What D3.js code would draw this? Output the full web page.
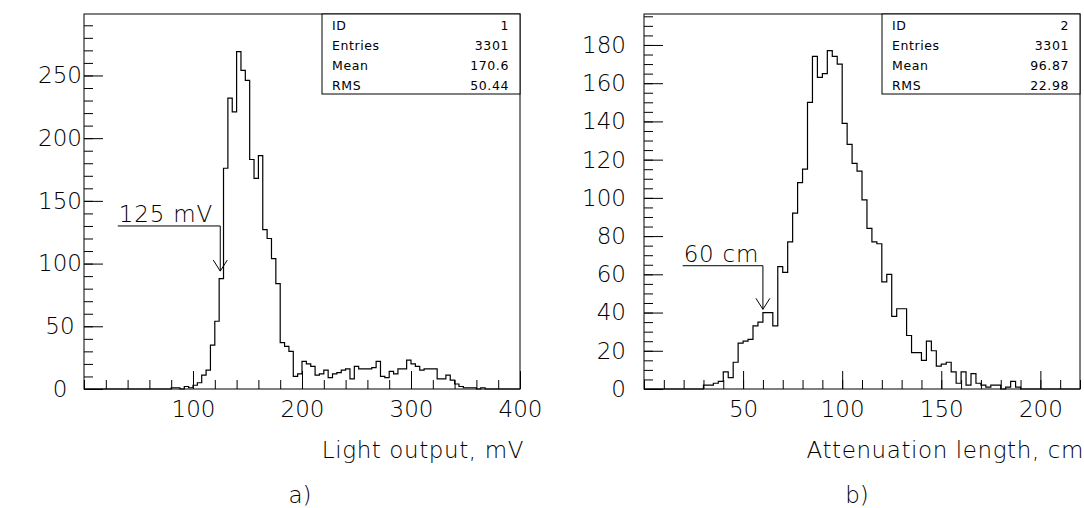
<!DOCTYPE html>
<html>
<head>
<meta charset="utf-8">
<script src="https://cdn.jsdelivr.net/npm/d3@7"></script>
<style>
  body { margin: 0; background: #fff; }
  text { font-family: "DejaVu Sans", sans-serif; fill: #000; }
</style>
</head>
<body>
<svg id="chart" width="1084" height="508"></svg>
<script>
// a) light output: 100 bins of 4 mV, 0..400
var lightCounts = [
  0, 0, 0, 0, 0, 0, 0, 0, 0, 0, 0, 0, 0, 0, 0, 0, 0, 0, 0, 0,
  1, 1, 0, 2, 1, 3, 5, 11, 15, 35, 54, 88, 176, 232, 221, 269, 254, 246, 183, 168,
  186, 127, 120, 104, 84, 37, 34, 30, 10, 12, 22, 20, 18, 11, 12, 15, 9, 12, 13, 15,
  16, 8, 18, 16, 16, 16, 17, 22, 10, 9, 14, 12, 16, 16, 23, 20, 18, 15, 16, 16,
  16, 8, 8, 11, 7, 4, 2, 1, 1, 1, 0, 1, 0, 0, 0, 0, 0, 0, 0, 0
];
var lightStats = [["ID", "1"], ["Entries", "3301"], ["Mean", "170.6"], ["RMS", "50.44"]];
var lightXTicks = [100, 200, 300, 400];
var lightYTicks = [0, 50, 100, 150, 200, 250];

// b) attenuation length: 88 bins of 2.5 cm, 0..220
var attCounts = [
  0, 0, 0, 0, 0, 0, 0, 0, 0, 0, 0, 0, 2, 2, 3, 4, 9, 6, 14, 24,
  25, 26, 33, 35, 40, 40, 33, 64, 61, 77, 92, 108, 115, 150, 174, 163, 165, 177, 174, 170,
  139, 128, 118, 114, 99, 84, 77, 76, 56, 60, 38, 42, 42, 28, 19, 19, 15, 25, 20, 12,
  13, 14, 9, 3, 9, 2, 8, 3, 2, 1, 2, 2, 0, 1, 4, 1, 0, 0, 0, 0,
  0, 0, 0, 0, 0, 0, 0, 0
];
var attStats = [["ID", "2"], ["Entries", "3301"], ["Mean", "96.87"], ["RMS", "22.98"]];
var attXTicks = [50, 100, 150, 200];
var attYTicks = [0, 20, 40, 60, 80, 100, 120, 140, 160, 180];

var svg = d3.select("#chart");

function drawPanel(p) {
  var x = d3.scaleLinear().domain(p.xDomain).range([p.left, p.right]);
  var y = d3.scaleLinear().domain(p.yDomain).range([p.bottom, p.top]);
  var g = svg.append("g");

  // minor and major ticks, pointing inwards
  var minorX = d3.range(p.xDomain[0], p.xDomain[1] + 0.001, p.xMinor);
  var minorY = d3.range(p.yDomain[0], p.yDomain[1], p.yMinor);

  g.append("g")
    .attr("transform", "translate(0," + p.bottom + ")")
    .call(d3.axisBottom(x).tickValues(minorX).tickSize(-9).tickFormat(""))
    .call(function(a) { a.select(".domain").remove(); });
  g.append("g")
    .attr("transform", "translate(0," + p.bottom + ")")
    .call(d3.axisBottom(x).tickValues(p.xTicks).tickSize(-18).tickPadding(12).tickFormat(d3.format("d")))
    .call(function(a) { a.select(".domain").remove(); });
  g.append("g")
    .attr("transform", "translate(" + p.left + ",0)")
    .call(d3.axisLeft(y).tickValues(minorY).tickSize(-9).tickFormat(""))
    .call(function(a) { a.select(".domain").remove(); });
  var yAxisG = g.append("g")
    .attr("transform", "translate(" + p.left + ",0)")
    .call(d3.axisLeft(y).tickValues(p.yTicks).tickSize(-19).tickPadding(p.yPad).tickFormat(d3.format("d")))
    .call(function(a) { a.select(".domain").remove(); });
  if (p.yAnchor) yAxisG.selectAll(".tick text").attr("text-anchor", p.yAnchor);

  g.selectAll(".tick line").attr("stroke", "#000").attr("stroke-width", 1);
  g.selectAll(".tick text")
    .attr("font-family", "DejaVu Sans")
    .attr("font-weight", 200)
    .attr("font-size", 23)
    .attr("fill", "#000");

  // frame
  g.append("rect")
    .attr("x", p.left).attr("y", p.top)
    .attr("width", p.right - p.left).attr("height", p.bottom - p.top)
    .attr("fill", "none").attr("stroke", "#000").attr("stroke-width", 1);

  // histogram outline
  var pts = [];
  p.counts.forEach(function(c, i) {
    var x0 = p.xDomain[0] + i * p.binWidth;
    pts.push([x0, c], [x0 + p.binWidth, c]);
  });
  var line = d3.line()
    .x(function(d) { return x(d[0]); })
    .y(function(d) { return y(d[1]); });
  g.append("path")
    .attr("d", line(pts))
    .attr("fill", "none")
    .attr("stroke", "#000")
    .attr("stroke-width", 1.2);

  // stats box
  var bx = p.statsLeft, by = p.top;
  g.append("rect")
    .attr("x", bx).attr("y", by)
    .attr("width", p.right - bx).attr("height", 80)
    .attr("fill", "#fff").attr("stroke", "#000").attr("stroke-width", 1);
  p.stats.forEach(function(s, i) {
    g.append("text").attr("x", bx + 10).attr("y", by + 15.5 + i * 20)
      .attr("font-size", 12.5).attr("letter-spacing", 0.6).text(s[0]);
    g.append("text").attr("x", p.right - 11).attr("y", by + 15.5 + i * 20)
      .attr("font-size", 12.5).attr("letter-spacing", 0.6).attr("text-anchor", "end").text(s[1]);
  });

  // cut annotation with arrow
  var a = p.arrow;
  var ax = x(a.at), ay = y(a.level), tip = y(a.tip);
  g.append("path")
    .attr("d", "M" + x(a.from) + "," + ay + "H" + ax + "V" + tip +
      "M" + (ax - 7) + "," + (tip - 11) + "L" + ax + "," + tip + "L" + (ax + 7) + "," + (tip - 11))
    .attr("fill", "none").attr("stroke", "#000").attr("stroke-width", 1);
  g.append("text")
    .attr("x", x(a.from) + 1).attr("y", ay - 4)
    .attr("font-size", 23).attr("font-weight", 200).attr("letter-spacing", 0.8)
    .text(a.label);

  // axis title and panel letter
  g.append("text")
    .attr("x", p.right + 4).attr("y", 458)
    .attr("text-anchor", "end")
    .attr("font-size", 23).attr("font-weight", 200).attr("letter-spacing", 0.6)
    .text(p.xLabel);
  g.append("text")
    .attr("x", p.letterX).attr("y", 503)
    .attr("text-anchor", "middle")
    .attr("font-size", 23).attr("font-weight", 200)
    .text(p.letter);
}

drawPanel({
  left: 84, right: 520, top: 14, bottom: 389,
  xDomain: [0, 400], yDomain: [0, 299], binWidth: 4,
  xMinor: 20, yMinor: 10, xTicks: lightXTicks, yTicks: lightYTicks, yPad: 24, yAnchor: "middle",
  counts: lightCounts, stats: lightStats, statsLeft: 322,
  arrow: { at: 125, level: 130, tip: 94, from: 31, label: "125 mV" },
  xLabel: "Light output, mV", letter: "a)", letterX: 300
});

drawPanel({
  left: 644, right: 1080, top: 14, bottom: 389,
  xDomain: [0, 220], yDomain: [0, 196.2], binWidth: 2.5,
  xMinor: 10, yMinor: 5, xTicks: attXTicks, yTicks: attYTicks, yPad: 18,
  counts: attCounts, stats: attStats, statsLeft: 882,
  arrow: { at: 60, level: 64.5, tip: 41.7, from: 19.5, label: "60 cm" },
  xLabel: "Attenuation length, cm", letter: "b)", letterX: 857
});
</script>
</body>
</html>
